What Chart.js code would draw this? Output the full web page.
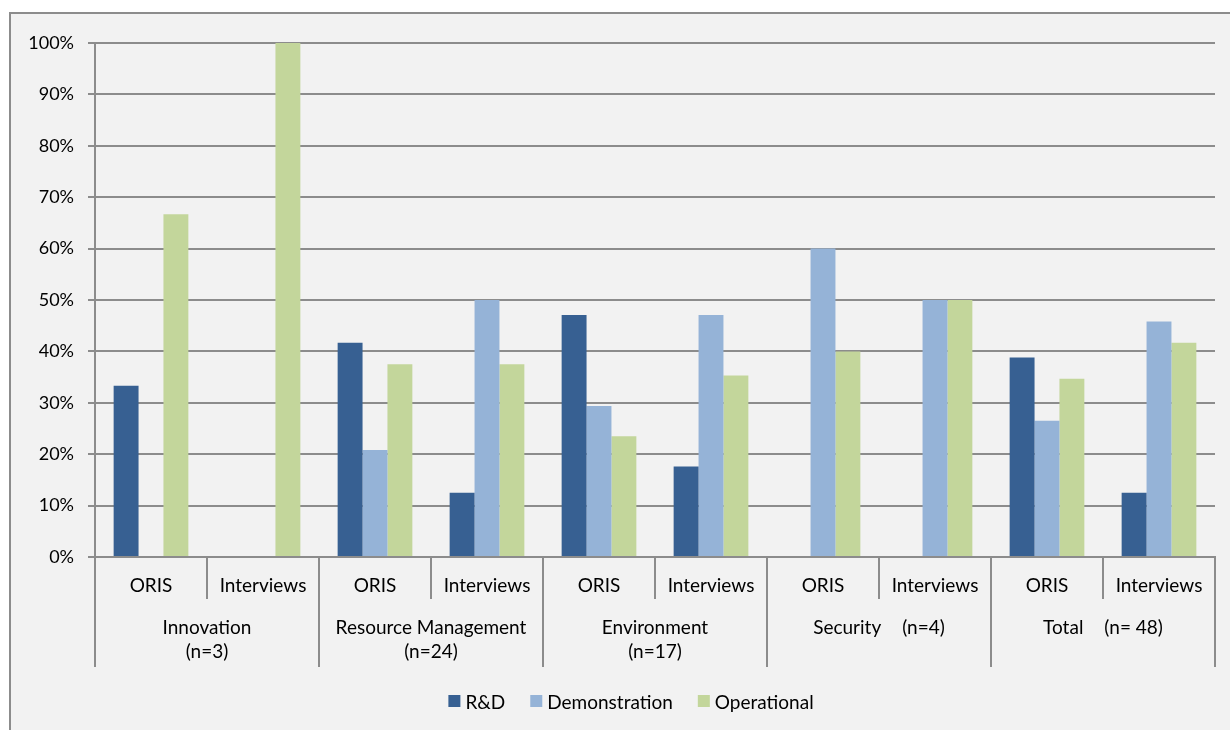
<!DOCTYPE html>
<html>
<head>
<meta charset="utf-8">
<title>Share by maturity level</title>
<script src="https://cdn.jsdelivr.net/npm/chart.js@4.4.1/dist/chart.umd.min.js"></script>
<style>
  html, body { margin: 0; padding: 0; background: #ffffff; }
  #chart { display: block; }
</style>
</head>
<body>
<canvas id="chart" width="1230" height="730"></canvas>
<script>
// sub categories (bottom row of the x axis)
const subLabels = ['ORIS', 'Interviews', 'ORIS', 'Interviews', 'ORIS', 'Interviews', 'ORIS', 'Interviews', 'ORIS', 'Interviews'];
// main categories, each spans two sub categories
const groupLabels = [
    ['Innovation', '(n=3)'],
    ['Resource Management', '(n=24)'],
    ['Environment', '(n=17)'],
    ['Security', '(n=4)'],
    ['Total', '(n= 48)']
];
// groups whose two parts sit side by side on one line
const groupInline = [false, false, false, true, true];

const seriesNames = ['R&D', 'Demonstration', 'Operational'];
const rdValues = [33.3, 0, 41.7, 12.5, 47.1, 17.6, 0, 0, 38.8, 12.5];
const demoValues = [0, 0, 20.8, 50.0, 29.4, 47.1, 60.0, 50.0, 26.5, 45.8];
const opValues = [66.7, 100, 37.5, 37.5, 23.5, 35.3, 40.0, 50.0, 34.7, 41.7];
const seriesColors = ['#376092', '#95b3d7', '#c3d69b'];

const yTicks = [0, 10, 20, 30, 40, 50, 60, 70, 80, 90, 100];

const FONT = 'Lato, "Open Sans", sans-serif';
const LINE = '#8c8c8c';

// grey panel with its frame, drawn under everything
const panelPlugin = {
    id: 'panel',
    beforeDraw(chart) {
        const ctx = chart.ctx;
        ctx.save();
        ctx.fillStyle = '#f2f2f2';
        ctx.fillRect(10, 13, chart.width - 10, chart.height - 13);
        ctx.strokeStyle = LINE;
        ctx.lineWidth = 2;
        ctx.beginPath();
        ctx.moveTo(10, chart.height);
        ctx.lineTo(10, 13);
        ctx.lineTo(chart.width, 13);
        ctx.stroke();
        ctx.restore();
    }
};

// two-level category axis and legend
const axisPlugin = {
    id: 'multiAxis',
    afterDraw(chart) {
        const ctx = chart.ctx;
        const x = chart.scales.x;
        const bottom = chart.chartArea.bottom;
        const half = (x.getPixelForValue(1) - x.getPixelForValue(0)) / 2;

        ctx.save();
        ctx.strokeStyle = LINE;
        ctx.lineWidth = 2;
        ctx.fillStyle = '#000';
        ctx.font = '19px ' + FONT;
        ctx.textBaseline = 'middle';
        ctx.textAlign = 'center';

        // sub category labels + short separators
        subLabels.forEach((lab, i) => {
            const cx = x.getPixelForValue(i);
            ctx.fillText(lab, cx, bottom + 29);
            if (i % 2 === 1) {
                const sx = Math.round(cx - half);
                ctx.beginPath();
                ctx.moveTo(sx, bottom);
                ctx.lineTo(sx, bottom + 42);
                ctx.stroke();
            }
        });

        // group boundaries
        for (let g = 0; g <= groupLabels.length; g++) {
            const sx = Math.round(x.getPixelForValue(g * 2) - half);
            ctx.beginPath();
            ctx.moveTo(sx, bottom);
            ctx.lineTo(sx, bottom + 110);
            ctx.stroke();
        }

        // group labels
        groupLabels.forEach((parts, g) => {
            const cx = (x.getPixelForValue(g * 2) + x.getPixelForValue(g * 2 + 1)) / 2;
            if (groupInline[g]) {
                const gap = 21;
                const w0 = ctx.measureText(parts[0]).width;
                const w1 = ctx.measureText(parts[1]).width;
                const start = cx - (w0 + gap + w1) / 2;
                ctx.textAlign = 'left';
                ctx.fillText(parts[0], start, bottom + 71);
                ctx.fillText(parts[1], start + w0 + gap, bottom + 71);
                ctx.textAlign = 'center';
            } else {
                parts.forEach((line, k) => ctx.fillText(line, cx, bottom + 71 + k * 24));
            }
        });

        // legend
        const legendY = 703;
        const items = chart.data.datasets.map(ds => ({ text: ds.label, color: ds.backgroundColor }));
        const box = 12, boxGap = 5, itemGap = 25;
        let total = 0;
        items.forEach(it => { it.w = box + boxGap + ctx.measureText(it.text).width; total += it.w; });
        total += itemGap * (items.length - 1);
        let lx = 631 - total / 2;
        ctx.textAlign = 'left';
        items.forEach(it => {
            ctx.fillStyle = it.color;
            ctx.fillRect(lx, legendY - 2 - box / 2, box, box);
            ctx.fillStyle = '#000';
            ctx.fillText(it.text, lx + box + boxGap, legendY);
            lx += it.w + itemGap;
        });
        ctx.restore();
    }
};

const ctx = document.getElementById('chart').getContext('2d');
const chart = new Chart(ctx, {
    type: 'bar',
    data: {
        labels: subLabels,
        datasets: [
            { label: seriesNames[0], data: rdValues, backgroundColor: seriesColors[0] },
            { label: seriesNames[1], data: demoValues, backgroundColor: seriesColors[1] },
            { label: seriesNames[2], data: opValues, backgroundColor: seriesColors[2] }
        ]
    },
    options: {
        responsive: false,
        animation: false,
        layout: { padding: { top: 43, right: 15, left: 0, bottom: 0 } },
        datasets: {
            bar: { categoryPercentage: 0.667, barPercentage: 1.0, borderWidth: 0 }
        },
        plugins: {
            legend: { display: false },
            tooltip: { enabled: false }
        },
        scales: {
            x: {
                grid: { display: false },
                border: { display: true, color: LINE, width: 2 },
                ticks: { display: false },
                afterFit(scale) { scale.height = 173; }
            },
            y: {
                min: 0,
                max: 100,
                afterBuildTicks(scale) { scale.ticks = yTicks.map(v => ({ value: v })); },
                grid: { color: LINE, lineWidth: 2, tickLength: 7 },
                border: { display: true, color: LINE, width: 2 },
                ticks: {
                    padding: 14,
                    color: '#000',
                    font: { family: FONT, size: 18 },
                    callback: v => v + '%'
                },
                afterFit(scale) { scale.width = 95; }
            }
        }
    },
    plugins: [panelPlugin, axisPlugin]
});
</script>
</body>
</html>
